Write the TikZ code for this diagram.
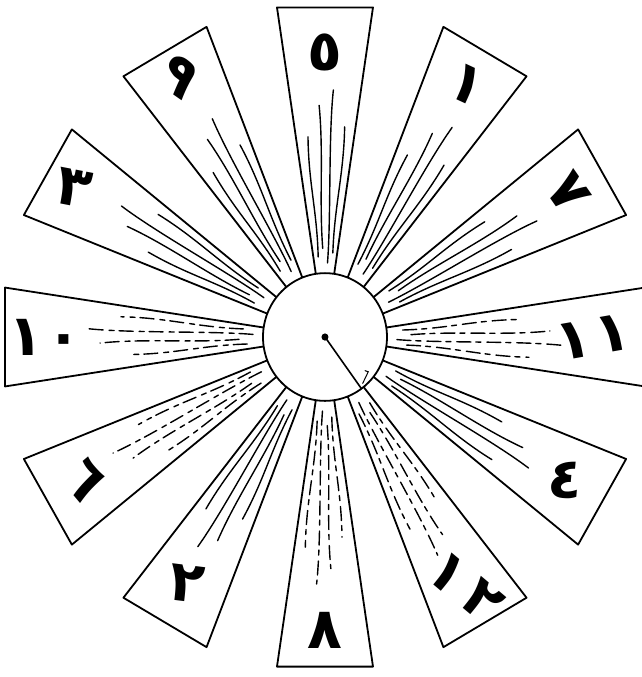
\documentclass[tikz,border=0pt]{standalone}
\usepackage{fontspec}
\newfontfamily\arabicfont[Script=Arabic]{DejaVu Sans}
\usetikzlibrary{calc}
\begin{document}
\begin{tikzpicture}[x=1pt,y=1.03pt,
  raybox/.style={draw=black, line width=1.8pt, fill=white, line join=round},
  streak/.style={line width=1.4pt, line cap=round},
  broken/.style={streak, dash pattern=on 14pt off 5pt on 5pt off 6pt},
  numeral/.style={font=\arabicfont\bfseries\fontsize{57}{57}\selectfont, inner sep=0pt},
  dial/.style={draw=black, line width=1.8pt, fill=white}]
\useasboundingbox (-325,-330.1) rectangle (317,327.2);
\clip (-325,-330.1) rectangle (317,327.2);
\foreach \a/\n/\lab/\rot/\sty/\rr in {
 90/r5/٥/0/streak/276, 60/r1/١/-25/streak/283, 30/r7/٧/-55/streak/281,
 0/r11/{١\kern4pt١}/10/broken/268, -30/r4/٤/-5/streak/278, -60/r12/{١\kern10pt٢}/-40/broken/280,
 -90/r8/٨/0/broken/285, -120/r2/٢/-7/streak/277, -150/r6/٦/-50/broken/278,
 180/r10/{١\kern4pt٠}/0/broken/280, 150/r3/٣/-11/streak/290, 120/r9/٩/-35/streak/292}
{
  \draw[raybox] (0,0) -- ($(\a:320)+({\a+90}:48)$) -- ($(\a:320)+({\a-90}:48)$) -- cycle;
  \foreach \d/\ra/\rb/\w in {-5.5/82/205/1.3, -2/72/240/-1, 1.5/86/225/1.1, 5/78/195/-1.3}{
    \draw[\sty] ({\a+\d}:\ra) .. controls ({\a+\d+\w}:{\ra+45}) and ({\a+\d-\w}:{\rb-45}) .. ({\a+\d}:\rb);
  }
  \node[numeral, rotate=\rot] (\n) at (\a:\rr) {\lab};
}
\draw[dial] (0,0) circle [radius=62];
\coordinate (hub) at (0,0);
\coordinate (tip) at (-54:62);
\fill (hub) circle [radius=3.5];
\draw[line width=1.6pt, line cap=round] (hub) -- (tip);
\draw[line width=1pt, line cap=round] (40,-32.7) -- (43.3,-33.7) -- (37.7,-45);
\end{tikzpicture}
\end{document}
